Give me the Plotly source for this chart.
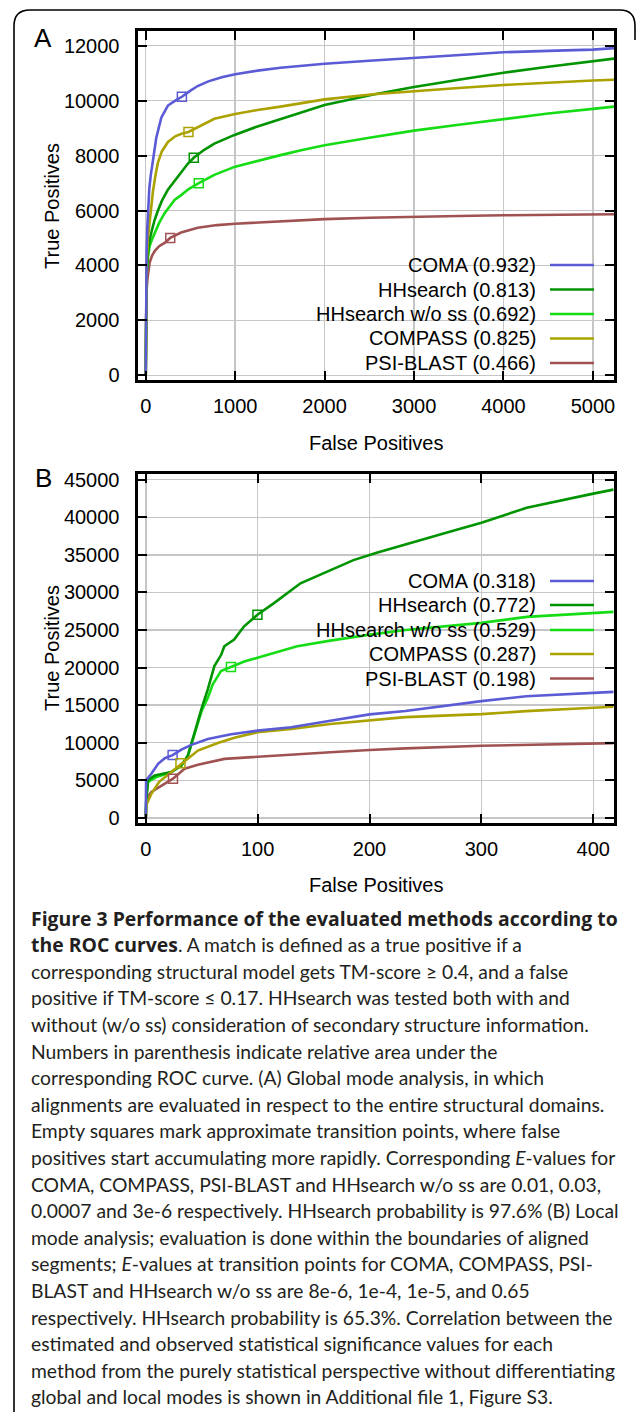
import plotly.graph_objects as go

W, H = 636, 1412

methods = ["COMA", "HHsearch", "HHsearch w/o ss", "COMPASS", "PSI-BLAST"]
auc_a = ["0.932", "0.813", "0.692", "0.825", "0.466"]
auc_b = ["0.318", "0.772", "0.529", "0.287", "0.198"]
colors = ["#5b5bd6", "#009400", "#16dc16", "#aba200", "#a05252"]

# ---------- Panel A (global mode) ----------
coma_a_x = [0, 2, 5, 10, 18, 28, 40, 55, 81, 118, 174, 248, 330, 404, 500, 581, 700, 850, 1000, 1250, 1507, 1750, 2000, 2500, 3000, 3500, 4000, 4500, 5000, 5240]
coma_a_y = [0, 2000, 3500, 4500, 5400, 6200, 6800, 7250, 7850, 8650, 9380, 9820, 10000, 10140, 10360, 10530, 10700, 10850, 10956, 11090, 11196, 11280, 11340, 11450, 11555, 11660, 11760, 11810, 11856, 11910]
hh_a_x = [0, 3, 10, 25, 44, 70, 100, 137, 180, 248, 340, 396, 470, 537, 650, 767, 1000, 1250, 1507, 1750, 2000, 2545, 3000, 3500, 4000, 4500, 5000, 5240]
hh_a_y = [0, 2500, 3800, 4500, 4943, 5300, 5663, 6000, 6350, 6756, 7150, 7400, 7700, 7920, 8200, 8436, 8760, 9060, 9336, 9600, 9840, 10220, 10496, 10760, 11013, 11230, 11440, 11530]
hhnoss_a_x = [0, 3, 10, 25, 44, 70, 100, 150, 211, 270, 322, 396, 480, 593, 680, 767, 1000, 1250, 1507, 1750, 2000, 2500, 3000, 3500, 4000, 4500, 5000, 5240]
hhnoss_a_y = [0, 2500, 3700, 4300, 4703, 4950, 5183, 5550, 5903, 6150, 6383, 6560, 6780, 6996, 7150, 7296, 7596, 7810, 8016, 8200, 8376, 8650, 8907, 9120, 9328, 9530, 9700, 9780]
compass_a_x = [0, 3, 10, 26, 45, 63, 81, 110, 137, 180, 248, 330, 400, 478, 600, 767, 1000, 1250, 1507, 1750, 2000, 2545, 3000, 3500, 4000, 4500, 5000, 5240]
compass_a_y = [0, 2500, 4000, 5063, 5700, 6143, 6700, 7300, 7750, 8150, 8496, 8700, 8790, 8856, 9060, 9336, 9516, 9660, 9780, 9910, 10044, 10230, 10351, 10460, 10568, 10660, 10730, 10760]
psi_a_x = [0, 3, 8, 19, 44, 70, 100, 150, 211, 274, 396, 581, 800, 1000, 1250, 1507, 2000, 2500, 3000, 3500, 4000, 4500, 5000, 5240]
psi_a_y = [0, 2000, 3000, 3503, 4103, 4350, 4523, 4700, 4823, 5003, 5200, 5370, 5470, 5519, 5565, 5603, 5687, 5735, 5777, 5800, 5826, 5840, 5855, 5862]
trans_a_x = [404, 537, 593, 478, 274]
trans_a_y = [10140, 7920, 6996, 8856, 5003]

# ---------- Panel B (local mode) ----------
coma_b_x = [0, 0.3, 5, 11, 17, 24, 31.8, 40.7, 55.5, 76.3, 100, 130, 165, 200, 232, 300, 340, 400, 418]
coma_b_y = [0, 5000, 5870, 7190, 7940, 8350, 9090, 9710, 10500, 11120, 11610, 12050, 12930, 13770, 14210, 15530, 16190, 16630, 16760]
hh_b_x = [0, 0.5, 2, 8, 22.8, 31.8, 37.7, 43.6, 50.1, 55.5, 61.3, 67.4, 70.2, 79, 87.9, 99.8, 114.6, 138.3, 164.9, 185.6, 206.4, 232, 268.5, 300, 340.5, 400, 418]
hh_b_y = [0, 2560, 5000, 5650, 6090, 6970, 8300, 11390, 14680, 17120, 20190, 21700, 22840, 23720, 25490, 27040, 28580, 31220, 32980, 34300, 35270, 36420, 37960, 39280, 41260, 43150, 43680]
hhnoss_b_x = [0, 0.5, 2, 9, 22.8, 31.8, 37.7, 43.6, 50.1, 55.5, 59.9, 67.2, 76.1, 88, 99.8, 135.3, 164.9, 200.4, 232, 300, 340.5, 400, 418]
hhnoss_b_y = [0, 2560, 4800, 5400, 6090, 6970, 8300, 11200, 14300, 16000, 17770, 19530, 20060, 20800, 21300, 22840, 23590, 24390, 24990, 25950, 26750, 27280, 27410]
compass_b_x = [0, 0.5, 5, 12, 22.8, 31.8, 46.6, 64.4, 80, 100, 130, 165, 200, 232, 300, 340, 400, 418]
compass_b_y = [0, 1700, 3200, 4800, 6090, 7190, 8960, 9970, 10700, 11390, 11830, 12490, 13000, 13400, 13800, 14210, 14650, 14780]
psi_b_x = [0, 0.5, 5, 17, 24.3, 34.7, 46.6, 70.3, 100, 130, 165, 200, 232, 300, 340, 400, 418]
psi_b_y = [0, 2560, 3440, 4550, 5210, 6530, 7060, 7850, 8150, 8450, 8720, 9020, 9240, 9590, 9680, 9900, 9940]
trans_b_x = [24, 99.8, 76.1, 31, 24.3]
trans_b_y = [8350, 27040, 20060, 7250, 5210]

x_ticks_a = [0, 1000, 2000, 3000, 4000, 5000]
y_ticks_a = [0, 2000, 4000, 6000, 8000, 10000, 12000]
x_ticks_b = [0, 100, 200, 300, 400]
y_ticks_b = [0, 5000, 10000, 15000, 20000, 25000, 30000, 35000, 40000, 45000]

BOLD = "<span style='font-family:Open Sans;font-weight:bold;font-size:19.4px'>"
caption_lines = [
    BOLD + "Figure 3 Performance of the evaluated methods according to</span>",
    BOLD + "the ROC curves</span>. A match is defined as a true positive if a",
    "corresponding structural model gets TM-score \u2265 0.4, and a false",
    "positive if TM-score \u2264 0.17. HHsearch was tested both with and",
    "without (w/o ss) consideration of secondary structure information.",
    "Numbers in parenthesis indicate relative area under the",
    "corresponding ROC curve. (A) Global mode analysis, in which",
    "alignments are evaluated in respect to the entire structural domains.",
    "Empty squares mark approximate transition points, where false",
    "positives start accumulating more rapidly. Corresponding <i>E</i>-values for",
    "COMA, COMPASS, PSI-BLAST and HHsearch w/o ss are 0.01, 0.03,",
    "0.0007 and 3e-6 respectively. HHsearch probability is 97.6% (B) Local",
    "mode analysis; evaluation is done within the boundaries of aligned",
    "segments; <i>E</i>-values at transition points for COMA, COMPASS, PSI-",
    "BLAST and HHsearch w/o ss are 8e-6, 1e-4, 1e-5, and 0.65",
    "respectively. HHsearch probability is 65.3%. Correlation between the",
    "estimated and observed statistical significance values for each",
    "method from the purely statistical perspective without differentiating",
    "global and local modes is shown in Additional file 1, Figure S3.",
]

PF = "Liberation Sans, Arial, sans-serif"


def px(x):
    return x / W


def py(y):
    return 1 - y / H


fig = go.Figure()

series_a = [(coma_a_x, coma_a_y), (hh_a_x, hh_a_y), (hhnoss_a_x, hhnoss_a_y),
            (compass_a_x, compass_a_y), (psi_a_x, psi_a_y)]
series_b = [(coma_b_x, coma_b_y), (hh_b_x, hh_b_y), (hhnoss_b_x, hhnoss_b_y),
            (compass_b_x, compass_b_y), (psi_b_x, psi_b_y)]

draw_order = [4, 2, 1, 3, 0]
for axes, series, tx, ty in [(("x", "y"), series_a, trans_a_x, trans_a_y),
                             (("x2", "y2"), series_b, trans_b_x, trans_b_y)]:
    for i in draw_order:
        xs, ys = series[i]
        fig.add_trace(go.Scatter(x=xs, y=ys, mode="lines", name=methods[i],
                                 line=dict(color=colors[i], width=2.6),
                                 xaxis=axes[0], yaxis=axes[1], showlegend=False,
                                 hoverinfo="skip"))
    for i in range(5):
        fig.add_trace(go.Scatter(x=[tx[i]], y=[ty[i]], mode="markers",
                                 marker=dict(symbol="square-open", size=9, color=colors[i],
                                             line=dict(width=1.5, color=colors[i])),
                                 xaxis=axes[0], yaxis=axes[1], showlegend=False,
                                 hoverinfo="skip"))

xdom = [px(137.5), px(614)]
ydom_a = [py(380.2), py(30.8)]
ydom_b = [py(822.8), py(473.5)]

axis_common = dict(showline=True, linecolor="black", linewidth=3, mirror="ticks",
                   ticks="inside", ticklen=9, tickwidth=2, tickcolor="black",
                   showgrid=True, gridcolor="#c6c6c6", gridwidth=1.5, zeroline=False,
                   automargin=False, tickformat="d",
                   tickfont=dict(family=PF, size=20, color="black"))

fig.update_layout(
    width=W, height=H, autosize=False,
    margin=dict(l=0, r=0, t=0, b=0, pad=0),
    paper_bgcolor="white", plot_bgcolor="white",
    hovermode=False,
    xaxis=dict(domain=xdom, anchor="y", range=[-92, 5236], tickvals=x_ticks_a,
               ticklabelstandoff=6, **axis_common),
    yaxis=dict(domain=ydom_a, anchor="x", range=[-175, 12540], tickvals=y_ticks_a,
               ticklabelstandoff=11, **axis_common),
    xaxis2=dict(domain=xdom, anchor="y2", range=[-7.4, 418.5], tickvals=x_ticks_b,
                ticklabelstandoff=6, **axis_common),
    yaxis2=dict(domain=ydom_b, anchor="x2", range=[-660, 45830], tickvals=y_ticks_b,
                ticklabelstandoff=11, **axis_common),
)

ann = []
shapes = []


def add_text(x, y, text, size, xanchor="center", family=PF, angle=0, color="black"):
    ann.append(dict(x=px(x), y=py(y), text=text, showarrow=False, xref="paper", yref="paper",
                    xanchor=xanchor, yanchor="middle", textangle=angle,
                    font=dict(family=family, size=size, color=color)))


# panel letters
add_text(43, 38, "A", 26)
add_text(43, 478, "B", 26)

# axis titles
for yc, xc in [(206, 443), (648, 885)]:
    add_text(52, yc, "True Positives", 20, angle=-90)
    add_text(376, xc, "False Positives", 20)

# legends (text right-aligned, sample line on the right)
rows_a = [265, 289.5, 314, 338.5, 363]
rows_b = [581, 605, 630, 654, 678.5]
for rows, aucs in [(rows_a, auc_a), (rows_b, auc_b)]:
    for i in range(5):
        add_text(538, rows[i], f"{methods[i]} ({aucs[i]})", 20, xanchor="right")
        shapes.append(dict(type="line", xref="paper", yref="paper",
                           x0=px(550), x1=px(594), y0=py(rows[i]), y1=py(rows[i]),
                           line=dict(color=colors[i], width=2.6)))

# caption
for k, line in enumerate(caption_lines):
    add_text(29, 918 + k * 26.6, line, 19.3, xanchor="left",
             family="Lato, Open Sans, sans-serif", color="#231f20")

# rounded frame around the figure
path = (f"M {px(14)},{py(1412)} L {px(14)},{py(26)} Q {px(14)},{py(10)} {px(30)},{py(10)} "
        f"L {px(620)},{py(10)} Q {px(635)},{py(10)} {px(635)},{py(26)} L {px(635)},{py(40)}")
shapes.append(dict(type="path", path=path, xref="paper", yref="paper",
                   line=dict(color="black", width=1.6)))

fig.update_layout(annotations=ann, shapes=shapes)
fig.write_html("out.html", config={"displayModeBar": False, "staticPlot": True},
               post_script="document.body.style.margin='0px';")
